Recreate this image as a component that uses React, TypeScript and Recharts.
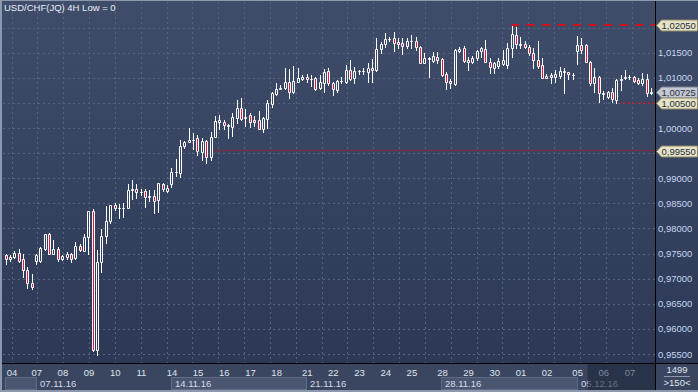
import { ComposedChart, Bar, XAxis, YAxis, CartesianGrid, ReferenceLine } from 'recharts'

// 4H candles, 04.11.16 .. 07.12.16
const opens = [
  0.9747, 0.9739, 0.9743, 0.9751, 0.9739, 0.9717, 0.9691, 0.9736, 0.9736, 0.9760,
  0.9789, 0.9750, 0.9760, 0.9739, 0.9744, 0.9749, 0.9741, 0.9766, 0.9756, 0.9782,
  0.9835, 0.9558, 0.9733, 0.9785, 0.9815, 0.9847, 0.9840, 0.9841, 0.9840, 0.9877,
  0.9878, 0.9872, 0.9874, 0.9865, 0.9865, 0.9856, 0.9889, 0.9875, 0.9889, 0.9912,
  0.9910, 0.9965, 0.9973, 0.9977, 0.9980, 0.9953, 0.9975, 0.9942, 0.9983, 1.0011,
  1.0011, 1.0005, 1.0003, 1.0020, 1.0039, 1.0019, 1.0025, 1.0015, 1.0015, 0.9999,
  1.0018, 1.0048, 1.0068, 1.0078, 1.0080, 1.0092, 1.0072, 1.0092, 1.0098, 1.0102,
  1.0097, 1.0099, 1.0080, 1.0090, 1.0114, 1.0089, 1.0076, 1.0093, 1.0091, 1.0116,
  1.0099, 1.0114, 1.0113, 1.0112, 1.0120, 1.0115, 1.0157, 1.0167, 1.0177, 1.0179,
  1.0171, 1.0170, 1.0164, 1.0173, 1.0174, 1.0161, 1.0130, 1.0139, 1.0134, 1.0142,
  1.0137, 1.0107, 1.0094, 1.0088, 1.0154, 1.0160, 1.0135, 1.0131, 1.0139, 1.0153,
  1.0157, 1.0132, 1.0119, 1.0123, 1.0127, 1.0125, 1.0159, 1.0185, 1.0167, 1.0167,
  1.0161, 1.0150, 1.0135, 1.0125, 1.0103, 1.0102, 1.0102, 1.0104, 1.0113, 1.0111,
  1.0106, 1.0154, 1.0165, 1.0165, 1.0132, 1.0090, 1.0102, 1.0069, 1.0062, 1.0071,
  1.0056, 1.0096, 1.0099, 1.0102, 1.0102, 1.0096, 1.0090, 1.0097, 1.0070,
]
const highs = [
  0.9749, 0.9747, 0.9755, 0.9759, 0.9750, 0.9724, 0.9709, 0.9750, 0.9764, 0.9789,
  0.9790, 0.9778, 0.9764, 0.9748, 0.9753, 0.9752, 0.9773, 0.9769, 0.9789, 0.9835,
  0.9838, 0.9757, 0.9799, 0.9845, 0.9847, 0.9850, 0.9848, 0.9850, 0.9888, 0.9896,
  0.9888, 0.9878, 0.9878, 0.9877, 0.9877, 0.9891, 0.9891, 0.9886, 0.9920, 0.9938,
  0.9976, 0.9975, 1.0001, 0.9990, 0.9986, 0.9980, 0.9977, 0.9993, 1.0023, 1.0025,
  1.0016, 1.0008, 1.0030, 1.0056, 1.0059, 1.0038, 1.0029, 1.0023, 1.0034, 1.0021,
  1.0056, 1.0072, 1.0089, 1.0086, 1.0120, 1.0117, 1.0123, 1.0119, 1.0105, 1.0107,
  1.0106, 1.0101, 1.0106, 1.0117, 1.0119, 1.0092, 1.0096, 1.0102, 1.0125, 1.0135,
  1.0122, 1.0116, 1.0119, 1.0129, 1.0137, 1.0179, 1.0172, 1.0189, 1.0182, 1.0192,
  1.0180, 1.0179, 1.0179, 1.0185, 1.0181, 1.0164, 1.0149, 1.0142, 1.0152, 1.0152,
  1.0139, 1.0111, 1.0098, 1.0157, 1.0162, 1.0164, 1.0142, 1.0144, 1.0155, 1.0162,
  1.0175, 1.0139, 1.0132, 1.0139, 1.0155, 1.0169, 1.0205, 1.0202, 1.0182, 1.0173,
  1.0165, 1.0159, 1.0173, 1.0139, 1.0107, 1.0109, 1.0116, 1.0122, 1.0119, 1.0112,
  1.0109, 1.0184, 1.0179, 1.0167, 1.0133, 1.0119, 1.0104, 1.0074, 1.0074, 1.0080,
  1.0098, 1.0106, 1.0116, 1.0106, 1.0104, 1.0099, 1.0109, 1.0107, 1.0079,
]
const lows = [
  0.9729, 0.9736, 0.9741, 0.9734, 0.9703, 0.9681, 0.9679, 0.9729, 0.9734, 0.9758,
  0.9749, 0.9749, 0.9736, 0.9737, 0.9739, 0.9734, 0.9740, 0.9755, 0.9755, 0.9750,
  0.9555, 0.9549, 0.9713, 0.9772, 0.9810, 0.9837, 0.9820, 0.9823, 0.9840, 0.9858,
  0.9860, 0.9867, 0.9843, 0.9855, 0.9831, 0.9832, 0.9875, 0.9873, 0.9883, 0.9904,
  0.9903, 0.9961, 0.9972, 0.9958, 0.9946, 0.9936, 0.9930, 0.9936, 0.9982, 0.9999,
  0.9998, 0.9981, 0.9985, 1.0009, 1.0015, 1.0004, 1.0003, 1.0004, 0.9998, 0.9993,
  1.0001, 1.0041, 1.0066, 1.0077, 1.0077, 1.0059, 1.0069, 1.0091, 1.0096, 1.0091,
  1.0084, 1.0076, 1.0077, 1.0072, 1.0086, 1.0066, 1.0071, 1.0089, 1.0089, 1.0096,
  1.0089, 1.0107, 1.0107, 1.0092, 1.0092, 1.0113, 1.0149, 1.0162, 1.0174, 1.0153,
  1.0159, 1.0147, 1.0159, 1.0159, 1.0156, 1.0129, 1.0129, 1.0102, 1.0132, 1.0129,
  1.0104, 1.0078, 1.0080, 1.0086, 1.0152, 1.0132, 1.0116, 1.0129, 1.0135, 1.0142,
  1.0132, 1.0109, 1.0109, 1.0119, 1.0125, 1.0119, 1.0142, 1.0159, 1.0160, 1.0159,
  1.0145, 1.0119, 1.0119, 1.0099, 1.0099, 1.0090, 1.0092, 1.0099, 1.0070, 1.0098,
  1.0097, 1.0127, 1.0150, 1.0132, 1.0086, 1.0072, 1.0051, 1.0058, 1.0059, 1.0051,
  1.0050, 1.0076, 1.0097, 1.0098, 1.0092, 1.0088, 1.0086, 1.0064, 1.0067,
]
const closes = [
  0.9739, 0.9744, 0.9752, 0.9736, 0.9717, 0.9691, 0.9684, 0.9747, 0.9762, 0.9789,
  0.9750, 0.9760, 0.9739, 0.9746, 0.9749, 0.9740, 0.9766, 0.9757, 0.9782, 0.9834,
  0.9558, 0.9734, 0.9785, 0.9815, 0.9847, 0.9840, 0.9841, 0.9841, 0.9877, 0.9878,
  0.9872, 0.9873, 0.9862, 0.9862, 0.9855, 0.9890, 0.9878, 0.9881, 0.9912, 0.9913,
  0.9965, 0.9972, 0.9977, 0.9977, 0.9954, 0.9974, 0.9942, 0.9983, 1.0014, 1.0015,
  1.0005, 1.0004, 1.0021, 1.0039, 1.0018, 1.0022, 1.0011, 1.0011, 0.9999, 1.0019,
  1.0049, 1.0070, 1.0078, 1.0080, 1.0091, 1.0072, 1.0094, 1.0099, 1.0101, 1.0097,
  1.0098, 1.0078, 1.0091, 1.0112, 1.0089, 1.0078, 1.0094, 1.0094, 1.0116, 1.0098,
  1.0114, 1.0113, 1.0114, 1.0119, 1.0115, 1.0157, 1.0167, 1.0177, 1.0178, 1.0170,
  1.0168, 1.0164, 1.0173, 1.0174, 1.0161, 1.0130, 1.0139, 1.0138, 1.0143, 1.0136,
  1.0106, 1.0092, 1.0089, 1.0155, 1.0158, 1.0133, 1.0131, 1.0140, 1.0153, 1.0159,
  1.0132, 1.0122, 1.0129, 1.0133, 1.0135, 1.0159, 1.0187, 1.0167, 1.0166, 1.0161,
  1.0149, 1.0135, 1.0124, 1.0100, 1.0100, 1.0106, 1.0107, 1.0114, 1.0112, 1.0107,
  1.0105, 1.0165, 1.0155, 1.0132, 1.0089, 1.0102, 1.0069, 1.0068, 1.0072, 1.0057,
  1.0096, 1.0097, 1.0102, 1.0101, 1.0094, 1.0090, 1.0097, 1.0069, 1.00725,
]

const dayTicks = [0, 7, 13, 19, 25, 31, 38, 44, 50, 56, 62, 69, 75, 81, 87, 93, 100, 106, 112, 118, 124, 131, 137, 143]
const dayLabels = ['04', '07', '08', '09', '10', '11', '14', '15', '16', '17', '18', '21', '22', '23', '24', '25', '28', '29', '30', '01', '02', '05', '06', '07']
const weekStarts = [0, 7, 38, 69, 100, 131]
const weekLabels = ['', '07.11.16', '14.11.16', '21.11.16', '28.11.16', '05.12.16']
// grid levels; the labels at 0.995 and 1.02 sit under the level tags
const gridLevels = [0.955, 0.96, 0.965, 0.97, 0.975, 0.98, 0.985, 0.99, 0.995, 1.0, 1.005, 1.01, 1.015, 1.02]
const priceLabels = [0.955, 0.96, 0.965, 0.97, 0.975, 0.98, 0.985, 0.99, 1.0, 1.01, 1.015]
const markers = [1.0205, 1.00725, 1.005, 0.9955]

const W = 698
const H = 392
const LEFT = 3
const TOP = 2
const AXIS_W = 43
const AXIS_H = 29
const PAD_R = 2
const Y_MIN = 0.95321
const Y_MAX = 1.02509
const PLOT_RIGHT = W - AXIS_W
const PLOT_H = H - TOP - AXIS_H
const BAND = (PLOT_RIGHT - LEFT - PAD_R) / opens.length
const RED = '#e3173a'
const FONT = '"Liberation Sans", Arial, sans-serif'

const data = opens.map((o, i) => ({
  i,
  o,
  h: highs[i],
  l: lows[i],
  c: closes[i],
  range: [lows[i], highs[i]],
}))

const fmt = (v: number) => v.toFixed(5).replace('.', ',')

function Candle(props: any) {
  const { x, y, width, height, payload } = props
  const { o, h, l, c } = payload
  const cx = Math.round(x + width / 2)
  const k = h > l ? height / (h - l) : 0
  const py = (v: number) => Math.round(y + (h - v) * k)
  const top = py(Math.max(o, c))
  const bot = py(Math.min(o, c))
  const yh = Math.round(y)
  const yl = Math.round(y + height)
  return (
    <g>
      <line x1={cx + 0.5} x2={cx + 0.5} y1={yh} y2={top} stroke="#fff" />
      <line x1={cx + 0.5} x2={cx + 0.5} y1={bot + 1} y2={yl + 1} stroke="#fff" />
      <path
        d={`M${cx - 0.5},${top + 0.5}H${cx + 1.5}V${bot + 0.5}H${cx - 0.5}Z`}
        fill={c < o ? RED : 'none'}
        stroke="#fff"
      />
    </g>
  )
}

function PriceTick(props: any) {
  const { x, y, payload } = props
  const v = payload.value
  if (markers.includes(v)) {
    const grey = v === 1.00725
    const y0 = Math.round(y)
    return (
      <g>
        <path
          d={`M${x + 1.5},${y0 + 0.5}L${x + 6.5},${y0 - 5}H${x + 42.5}V${y0 + 6}H${x + 6.5}Z`}
          fill={grey ? '#c3c8d2' : '#e6e2c6'}
          stroke={grey ? '#7d8494' : '#8c8868'}
        />
        <text x={x + 6.5} y={y0 + 4} fill="#2a3040" fontSize={9.5} fontFamily={FONT}>{fmt(v)}</text>
      </g>
    )
  }
  return (
    <text x={x + 3} y={y + 3.5} fill="#c6d6ee" fontSize={9.5} fontFamily={FONT}>{fmt(v)}</text>
  )
}

function DayTick(props: any) {
  const { x, y, payload } = props
  const i = payload.value
  const k = dayTicks.indexOf(i)
  const w = weekStarts.indexOf(i)
  const dim = i > 131
  let box = null
  if (w >= 0) {
    const x0 = Math.round(x) + 0.5
    const x1 = w + 1 < weekStarts.length ? Math.round(x + (weekStarts[w + 1] - i) * BAND) + 0.5 : PLOT_RIGHT
    box = (
      <g>
        <rect x={x0} y={y + 14.5} width={x1 - x0} height={12} fill={w % 2 === 0 ? '#4a5670' : 'none'} stroke={w % 2 === 0 ? '#5f6b86' : 'none'} />
        <text x={x0 + 3.5} y={y + 24} fill="#d6dcea" fontSize={9.5} fontFamily={FONT}>{weekLabels[w]}</text>
        {w === weekStarts.length - 1 && (
          <rect x={x + 11} y={y + 1} width={PLOT_RIGHT - x - 11} height={AXIS_H - 2} fill="#1c2438" opacity={0.6} />
        )}
      </g>
    )
  }
  return (
    <g>
      {box}
      <text
        x={k === 0 ? x + 1.5 : x + 1}
        y={y + 12.5}
        textAnchor={k === 0 ? 'start' : 'middle'}
        fill={dim ? '#7c889f' : '#dfe4ee'}
        fontSize={9.5}
        fontFamily={FONT}
      >
        {dayLabels[k]}
      </text>
    </g>
  )
}

const gridX: number[] = []
for (let gx = 11.6; gx < PLOT_RIGHT; gx += 25.83) gridX.push(Math.round(gx) + 0.5)
const gridY = gridLevels.map((v) => Math.round(TOP + ((Y_MAX - v) / (Y_MAX - Y_MIN)) * PLOT_H) + 0.5)

const Seg = (p: any) => (
  <line x1={p.x1} y1={p.y1} x2={PLOT_RIGHT} y2={p.y2} stroke={p.stroke} strokeWidth={p.strokeWidth} strokeDasharray={p.strokeDasharray} />
)

export default function App() {
  return (
    <div style={{ position: 'absolute', left: 0, top: 0, width: W, height: H, overflow: 'hidden', background: 'linear-gradient(to bottom, #3f4d6b 0px, #2c3856 363px, #3a465f 363px, #3a465f 392px)', fontFamily: FONT }}>
      <ComposedChart width={W} height={H} data={data} margin={{ top: TOP, right: 0, bottom: 0, left: LEFT }}>
        <CartesianGrid stroke="#56637f" strokeDasharray="2 3" verticalPoints={gridX} horizontalPoints={gridY} />
        <XAxis
          dataKey="i"
          ticks={dayTicks}
          interval={0}
          height={AXIS_H}
          padding={{ left: 0, right: PAD_R }}
          axisLine={false}
          tickLine={false}
          tickSize={0}
          tickMargin={0}
          tick={<DayTick />}
        />
        <YAxis
          orientation="right"
          width={AXIS_W}
          domain={[Y_MIN, Y_MAX]}
          allowDataOverflow
          ticks={[...priceLabels, ...markers]}
          interval={0}
          axisLine={false}
          tickLine={false}
          tickSize={0}
          tickMargin={0}
          tick={<PriceTick />}
        />
        <ReferenceLine segment={[{ x: 48, y: 0.9955 }, { x: 148, y: 0.9955 }]} stroke="#b8192b" strokeWidth={1.5} strokeDasharray="2 2" shape={Seg} />
        <ReferenceLine segment={[{ x: 141, y: 1.005 }, { x: 148, y: 1.005 }]} stroke="#b8192b" strokeWidth={1.5} strokeDasharray="2 2" shape={Seg} />
        <ReferenceLine segment={[{ x: 116, y: 1.0205 }, { x: 148, y: 1.0205 }]} stroke="#d0121f" strokeWidth={2} strokeDasharray="8 7.5" shape={Seg} />
        <Bar dataKey="range" barSize={3} shape={<Candle />} isAnimationActive={false} />
      </ComposedChart>
      <div style={{ position: 'absolute', left: 4, top: 2, fontSize: 9.5, color: '#e9edf5', whiteSpace: 'nowrap' }}>USD/CHF(JQ) 4H Low = 0</div>
      <div style={{ position: 'absolute', left: PLOT_RIGHT, top: 0, width: 1, height: H, background: '#000' }} />
      <div style={{ position: 'absolute', left: 0, top: H - AXIS_H, width: W, height: 1, background: '#000' }} />
      <div style={{ position: 'absolute', left: 0, top: 0, width: 2, height: H, background: '#8d98ac' }} />
      <div style={{ position: 'absolute', left: 0, top: 0, width: W, height: 1, background: '#8d98ac' }} />
      <div style={{ position: 'absolute', left: 0, top: H - 2, width: W, height: 2, background: '#8d98ac' }} />
      <div style={{ position: 'absolute', left: PLOT_RIGHT + 1, top: H - AXIS_H + 2, width: AXIS_W - 1, textAlign: 'center', fontSize: 9.5, color: '#dfe4ee', lineHeight: '10px' }}>
        <div style={{ borderBottom: '1px solid #8c97ad', margin: '0 8px', paddingBottom: 1 }}>1499</div>
        <div style={{ paddingTop: 1 }}>&gt;150&lt;</div>
      </div>
    </div>
  )
}
